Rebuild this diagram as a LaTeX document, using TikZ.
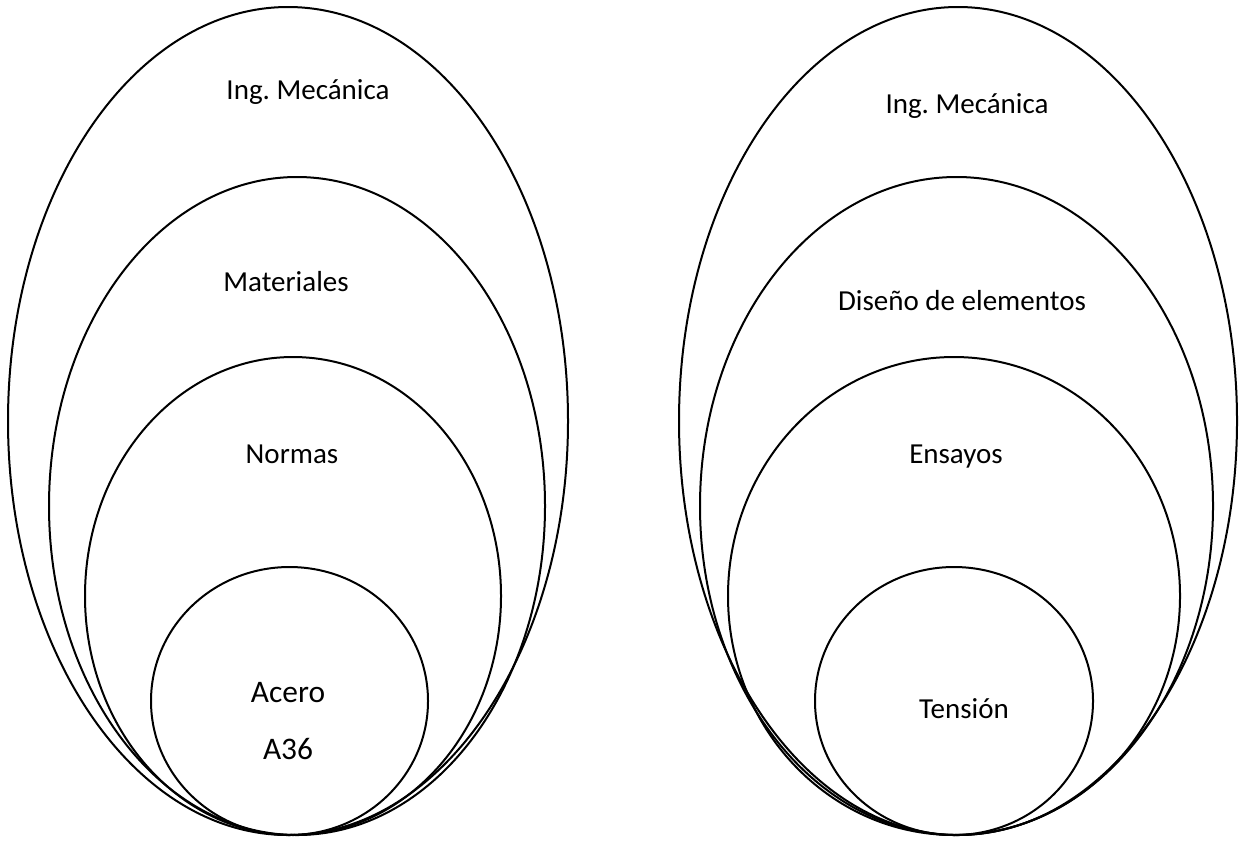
\documentclass[tikz,border=0pt]{standalone}
\usepackage{fontspec}
\setmainfont{Carlito}
\frenchspacing
\tikzset{
  ring/.style={draw=black, line width=1pt},
  tag/.style={font=\fontsize{14.5}{17}\selectfont, inner sep=0pt, anchor=base},
  bigtag/.style={tag, font=\fontsize{15.7}{19}\selectfont},
}

\begin{document}
\begin{tikzpicture}[x=0.5pt, y=-0.5pt]
    \useasboundingbox (0,0) rectangle (1240,841);

    % left set
    \draw[ring] (288,421) ellipse [x radius=280, y radius=414];
    \draw[ring] (297,506) ellipse [x radius=248, y radius=329];
    \draw[ring] (293,596) ellipse [x radius=208, y radius=239];
    \draw[ring] (289.5,701) ellipse [x radius=138.5, y radius=134];

    \node[tag] (ingL) at (308,99) {Ing. Mecánica};
    \node[tag] (mat) at (286,291) {Materiales};
    \node[tag] (norm) at (292,463) {Normas};
    \node[bigtag] (acero) at (288,702) {Acero};
    \node[bigtag] (a36) at (288,759) {A36};

    % right set
    \draw[ring] (958,421) ellipse [x radius=279, y radius=414];
    \draw[ring] (956.5,506) ellipse [x radius=256.5, y radius=329];
    \draw[ring] (954,596) ellipse [x radius=226, y radius=239];
    \draw[ring] (954,701) ellipse [x radius=139, y radius=134];

    \node[tag] (ingR) at (967,113) {Ing. Mecánica};
    \node[tag] (dis) at (962,310) {Diseño de elementos};
    \node[tag] (ens) at (956,463) {Ensayos};
    \node[tag] (ten) at (964,718) {Tensión};
\end{tikzpicture}
\end{document}
